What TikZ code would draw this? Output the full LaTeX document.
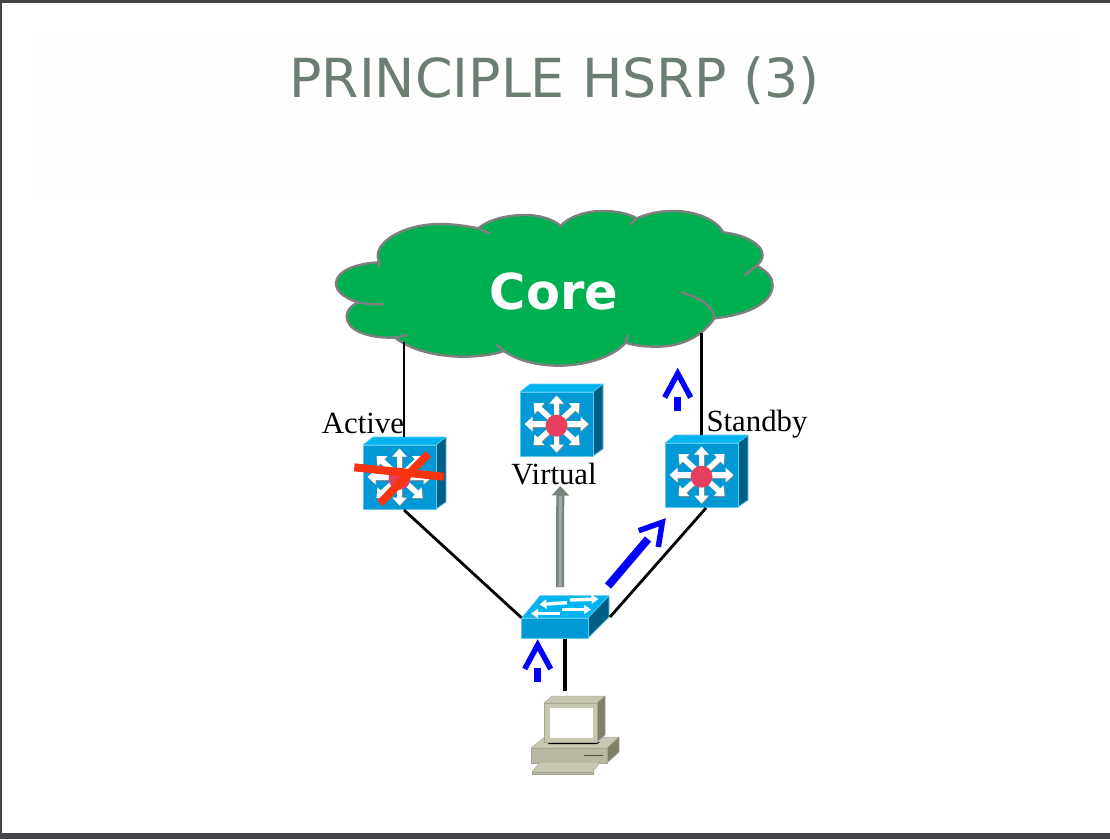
\documentclass[tikz,border=0pt]{standalone}
\usepackage{fontspec}
\setmainfont{Liberation Serif}
\newfontfamily\titlefont{DejaVu Sans}
\usetikzlibrary{arrows.meta}
\definecolor{framegray}{HTML}{46464A}
\definecolor{titlegray}{HTML}{6C7D72}
\definecolor{coregreen}{HTML}{00B050}
\definecolor{coreline}{HTML}{7F7F7F}
\definecolor{iconfront}{HTML}{0099D6}
\definecolor{icontop}{HTML}{00B4F0}
\definecolor{iconside}{HTML}{005F85}
\definecolor{iconedge}{HTML}{5CC8F0}
\definecolor{hubred}{HTML}{E63E5E}
\definecolor{crossred}{HTML}{F7340F}
\definecolor{pcfront}{HTML}{B9B8A0}
\definecolor{pctop}{HTML}{C8C7B2}
\definecolor{pcside}{HTML}{80806A}
\definecolor{upgray}{HTML}{77857B}
\definecolor{upcore}{HTML}{A0ABA3}
\tikzset{
  cloudline/.style={draw=coreline,line width=2.4pt,line cap=round},
  iconface/.style={draw=iconedge,line width=0.7pt,line join=round},
  spoke/.style={white,line width=5.5pt,-{Triangle[length=8pt,width=14pt]}},
  spokeshadow/.style={spoke,color=black!45},
  swarrow/.style={white,line width=3.4pt,-{Triangle[length=7pt,width=9pt]}},
  link/.style={black,line width=2.8pt},
  bluestroke/.style={blue,line width=5.5pt,miter limit=10},
  pcface/.style={draw=pcside!70!white,line width=0.5pt,line join=round},
  mlswitch/.pic={
    \fill[iconface,fill=icontop] (-36.5,-32)--(-26.5,-40)--(46.5,-40)--(36.5,-32)--cycle ;
    \fill[iconface,fill=iconside] (36.5,-32)--(46.5,-40)--(46.5,25)--(36.5,32)--cycle ;
    \node[iconface,fill=iconfront,minimum width=73pt,minimum height=64pt,inner sep=0pt] (-front) at (0,0) {} ;
    \foreach \tipx/\tipy in {0/-28.5,0/28.5,-32/0,32/0,-23/-21,23/-21,-23/21,23/21} {
      \draw[spokeshadow] (0.8,0.8)--(\tipx+0.8,\tipy+0.8) ;
      \draw[spoke] (0,0)--(\tipx,\tipy) ;
    }
    \fill[hubred] (0,1.7) circle (11) ;
    \coordinate (-top) at (0,-40) ;
    \coordinate (-bot) at (4.5,33) ;
  },
  upmark/.pic={
    \draw[bluestroke] (-13,29)--(0,5)--(13,29) ;
    \draw[blue,line width=6.5pt] (0,28)--(0,42) ;
  }
}
\begin{document}
\begin{tikzpicture}[x=1pt,y=-1pt]
  \useasboundingbox (0,0) rectangle (1110,839) ;
  % frame and title
  \fill[framegray] (0,0) rectangle (1110,3) ;
  \fill[framegray] (0,0) rectangle (2,839) ;
  \fill[framegray] (0,833) rectangle (1110,839) ;
  \fill[black!0.5] (35,37) rectangle (1075,195) ;
  \node[anchor=base,inner sep=0pt,text=titlegray,font=\titlefont\fontsize{53.8}{54}\selectfont] (title) at (554.5,97) {PRINCIPLE HSRP (3)} ;

  % cloud, in units of a third of a pixel
  \begin{scope}[shift={(320,200)},x=0.3333pt,y=-0.3333pt]
    \path[cloudline,fill=coregreen] (178,187) .. controls (150,130) and (250,72) .. (360,72)
      .. controls (400,72) and (440,78) .. (475,85)
      .. controls (510,55) and (570,45) .. (615,45)
      .. controls (660,45) and (700,58) .. (722,78)
      .. controls (745,50) and (800,33) .. (845,33)
      .. controls (890,33) and (925,40) .. (950,55)
      .. controls (985,40) and (1020,33) .. (1060,33)
      .. controls (1130,33) and (1190,60) .. (1210,97)
      .. controls (1280,105) and (1328,135) .. (1328,165)
      .. controls (1328,178) and (1320,188) .. (1310,197)
      .. controls (1345,215) and (1358,235) .. (1358,255)
      .. controls (1358,310) and (1280,345) .. (1183,355)
      .. controls (1150,405) and (1090,440) .. (1010,440)
      .. controls (975,440) and (945,437) .. (917,428)
      .. controls (880,470) and (800,497) .. (715,497)
      .. controls (650,497) and (590,480) .. (552,453)
      .. controls (520,465) and (470,470) .. (430,470)
      .. controls (340,470) and (265,445) .. (225,413)
      .. controls (130,415) and (80,385) .. (80,350)
      .. controls (80,330) and (95,315) .. (115,307)
      .. controls (75,295) and (48,275) .. (48,250)
      .. controls (48,215) and (105,190) .. (178,187) -- cycle ;
    \draw[cloudline] (475,85)--(510,100) ;
    \draw[cloudline] (950,55)--(932,72) ;
    \draw[cloudline] (1310,197)--(1275,225) ;
    \draw[cloudline] (1085,278) .. controls (1140,292) and (1183,320) .. (1183,355) ;
    \draw[cloudline] (917,428)--(924,406) ;
    \draw[cloudline] (552,453)--(530,435) ;
    \draw[cloudline] (225,413)--(260,405) ;
    \draw[cloudline] (115,307) .. controls (140,312) and (165,313) .. (190,313) ;
    \draw[cloudline] (178,187)--(177,200) ;
  \end{scope}
  \node[white,inner sep=0pt,font=\titlefont\bfseries\fontsize{49.5}{50}\selectfont] (core) at (554,291) {Core} ;
  \coordinate (coreL) at (404.3,342) ;
  \coordinate (coreR) at (701.5,333) ;

  % multilayer switches
  \pic (active) at (399.5,477) {mlswitch} ;
  \pic (virtual) at (556.5,424) {mlswitch} ;
  \pic (standby) at (701.5,475) {mlswitch} ;
  \node[anchor=base,inner sep=0pt,font=\fontsize{30.8}{31}\selectfont] (lblactive) at (363,433.5) {Active} ;
  \node[anchor=base,inner sep=0pt,font=\fontsize{30.8}{31}\selectfont] (lblvirtual) at (554,484) {Virtual} ;
  \node[anchor=base,inner sep=0pt,font=\fontsize{30.8}{31}\selectfont] (lblstandby) at (757,431) {Standby} ;

  % access switch
  \fill[iconface,fill=icontop] (521.7,618)--(540,595.7)--(609,595.7)--(588,618)--cycle ;
  \fill[iconface,fill=iconside] (588,618)--(609,595.7)--(609,617)--(588,638)--cycle ;
  \node[iconface,fill=iconfront,minimum width=66.3pt,minimum height=20pt,inner sep=0pt] (sw) at (554.85,628) {} ;
  \draw[swarrow] (567,602.7)--(539.5,604.5) ;
  \draw[swarrow] (570,600)--(598.5,599) ;
  \draw[swarrow] (560,613.5)--(531,613.5) ;
  \draw[swarrow] (562,609.5)--(591,609.5) ;
  \coordinate (swR) at (610,617) ;
  \coordinate (swT) at (560,587) ;
  \coordinate (swB) at (565,638.5) ;

  % computer
  \fill[pcface,fill=pctop] (545,737)--(619,737)--(607,748)--(531,748)--cycle ;
  \fill[pcface,fill=pcside] (607,748)--(619,737)--(619,752)--(607,763)--cycle ;
  \fill[pcface,fill=pcfront] (531,748) rectangle (607,763) ;
  \draw[black!70,line width=0.9pt] (583.5,755.7)--(602.5,755.7) ;
  \fill[black] (547,742)--(600,742)--(597,744)--(549,744)--cycle ;
  \fill[pcface,fill=pctop] (544,703)--(552,696)--(605,696)--(597,703)--cycle ;
  \fill[pcface,fill=pcside] (597,703)--(605,696)--(605,735)--(597,742)--cycle ;
  \fill[pcface,fill=pctop] (544,703) rectangle (597,742) ;
  \node[fill=white,minimum width=43pt,minimum height=30pt,inner sep=0pt] (screen) at (571,723) {} ;
  \fill[pcface,fill=pctop] (540,762)--(600,762)--(593,772)--(532,772)--cycle ;
  \fill[pcface,fill=pcfront] (532,772)--(593,772)--(593,774.5)--(532,774.5)--cycle ;
  \coordinate (pcT) at (565,691) ;

  % connectors
  \draw[link,line width=2.3pt] (coreL)--(coreL |- active-top) ;
  \draw[link,line width=2.3pt] (coreR)--(standby-top) ;
  \draw[link] (active-bot)--(sw.north west) ;
  \draw[link] (standby-bot)--(swR) ;
  \draw[link,line width=3.2pt] (swB)--(pcT) ;
  \coordinate (virtT) at (560.3,486) ;
  \draw[color=upgray,line width=8pt,-{Triangle[length=9.5pt,width=17pt]}] (swT)--(virtT) ;
  \draw[color=upcore,line width=3pt] (swT)--(560.3,496) ;

  % failed switch
  \draw[crossred,line width=8pt] (354.3,467.3)--(444,476.7) ;
  \draw[crossred,line width=8pt] (428.3,454)--(380,503.3) ;

  % traffic marks
  \pic at (537.7,640) {upmark} ;
  \pic at (677.7,368.5) {upmark} ;
  \coordinate (diagA) at (608,586) ;
  \coordinate (diagB) at (648,539) ;
  \draw[blue,line width=8pt] (diagA)--(diagB) ;
  \draw[bluestroke] (638.7,530.7)--(662.3,522.3)--(658.3,547) ;
\end{tikzpicture}
\end{document}
